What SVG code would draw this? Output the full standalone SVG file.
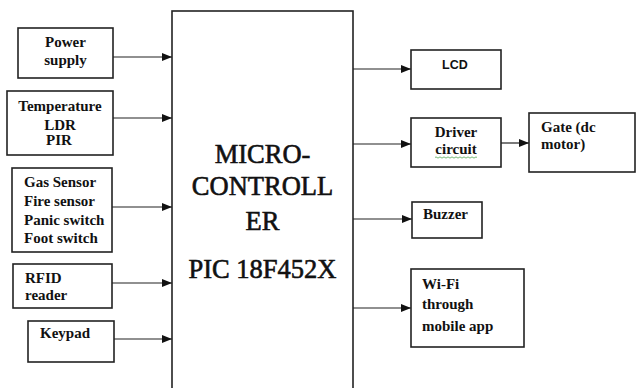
<svg xmlns="http://www.w3.org/2000/svg" width="637" height="388" viewBox="0 0 637 388">
<style>
.box{fill:#fff;stroke:#222;stroke-width:1.6}
.t{font-family:"Liberation Serif","Times New Roman",serif;font-weight:bold;font-size:15px;fill:#111}
.s{font-family:"Liberation Sans",Arial,sans-serif;font-weight:bold;font-size:12.5px;fill:#111}
.m{font-family:"Liberation Serif","Times New Roman",serif;font-size:26.5px;fill:#111;stroke:#111;stroke-width:0.6;text-anchor:middle}
.c{text-anchor:middle}
.ln{stroke:#222;stroke-width:1.2;fill:none;marker-end:url(#ah)}
</style>
<defs>
<marker id="ah" viewBox="0 0 10 8" refX="10" refY="4" markerWidth="10" markerHeight="8" markerUnits="userSpaceOnUse" orient="auto">
<path d="M0,0 L10,4 L0,8 Z" fill="#111"/>
</marker>
</defs>
<rect width="637" height="388" fill="#fff"/>
<g id="connectors">
<line class="ln" x1="113" y1="57" x2="172" y2="57"/>
<line class="ln" x1="113" y1="118" x2="172" y2="118"/>
<line class="ln" x1="112" y1="207" x2="172" y2="207"/>
<line class="ln" x1="112" y1="283" x2="172" y2="283"/>
<line class="ln" x1="114" y1="339" x2="172" y2="339"/>
<line class="ln" x1="353" y1="69" x2="411" y2="69"/>
<line class="ln" x1="353" y1="144" x2="411" y2="144"/>
<line class="ln" x1="501" y1="143" x2="529" y2="143"/>
<line class="ln" x1="353" y1="219" x2="412" y2="219"/>
<line class="ln" x1="353" y1="308" x2="411" y2="308"/>
</g>
<g id="mcu">
<rect class="box" x="172" y="11" width="181" height="390"/>
<text class="m" x="262.5" y="163">MICRO-</text>
<text class="m" x="262.5" y="195">CONTROLL</text>
<text class="m" x="262.5" y="230">ER</text>
<text class="m" x="262.5" y="278">PIC 18F452X</text>
</g>
<g id="power">
<rect class="box" x="18" y="28" width="95" height="50"/>
<text class="t c" x="65.5" y="47">Power</text>
<text class="t c" x="65.5" y="65">supply</text>
</g>
<g id="temp">
<rect class="box" x="7" y="91" width="106" height="64"/>
<text class="t c" x="60" y="111">Temperature</text>
<text class="t c" x="60" y="130">LDR</text>
<text class="t c" x="59" y="145">PIR</text>
</g>
<g id="gas">
<rect class="box" x="12" y="168" width="100" height="84"/>
<text class="t" x="24" y="187">Gas Sensor</text>
<text class="t" x="24" y="206">Fire sensor</text>
<text class="t" x="24" y="225">Panic switch</text>
<text class="t" x="24" y="243">Foot switch</text>
</g>
<g id="rfid">
<rect class="box" x="13" y="264" width="99" height="44"/>
<text class="t" x="25" y="283">RFID</text>
<text class="t" x="25" y="300">reader</text>
</g>
<g id="keypad">
<rect class="box" x="28" y="321" width="86" height="41"/>
<text class="t" x="40" y="338">Keypad</text>
</g>
<g id="lcd">
<rect class="box" x="411" y="50" width="90" height="39"/>
<text class="s" x="442" y="69">LCD</text>
</g>
<g id="driver">
<rect class="box" x="411" y="118" width="90" height="49"/>
<text class="t c" x="456" y="137">Driver</text>
<text class="t c" x="456" y="154">circuit</text>
<path d="M435,157.5 q1,-1.2 2,0 t2,0 t2,0 t2,0 t2,0 t2,0 t2,0 t2,0 t2,0 t2,0 t2,0 t2,0 t2,0 t2,0 t2,0 t2,0 t2,0 t2,0 t2,0 t2,0 t2,0" fill="none" stroke="#5a5" stroke-width="0.8"/>
</g>
<g id="gate">
<rect class="box" x="529" y="113" width="106" height="59"/>
<text class="t" x="541" y="132">Gate (dc</text>
<text class="t" x="541" y="149">motor)</text>
</g>
<g id="buzzer">
<rect class="box" x="412" y="202" width="70" height="36"/>
<text class="t" x="423" y="219">Buzzer</text>
</g>
<g id="wifi">
<rect class="box" x="411" y="269" width="113" height="78"/>
<text class="t" x="422" y="289">Wi-Fi</text>
<text class="t" x="422" y="309">through</text>
<text class="t" x="422" y="331">mobile app</text>
</g>
</svg>
